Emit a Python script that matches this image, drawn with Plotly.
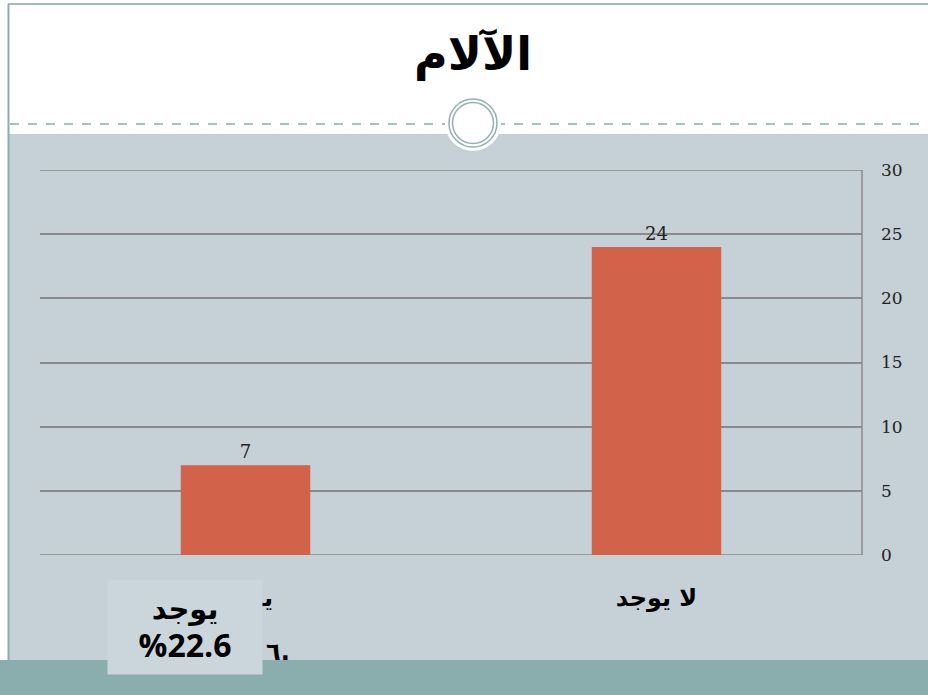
import plotly.graph_objects as go

categories = ["يوجد", "لا يوجد"]
values = [7, 24]
y_ticks = [0, 5, 10, 15, 20, 25, 30]
title_text = "الآلام"
box_lines = ["يوجد", "%22.6"]
hidden_fragment = "٦."

W_PX, H_PX = 928, 695
L, R, T, B = 40, 862, 170, 555
PW, PH = R - L, B - T


def px(x):
    return (x - L) / PW


def py(y):
    return (B - y) / PH


BAND = "#C5D0D7"
TEAL = "#8AADAD"
BAR = "#D2634A"
GRID = "#8A8A8A"

fig = go.Figure()
fig.add_trace(go.Bar(
    x=categories, y=values, marker=dict(color=BAR, line=dict(width=0)),
    width=0.315, text=[str(v) for v in values], textposition="outside",
    textfont=dict(family="DejaVu Serif", size=18, color="#222222"),
    cliponaxis=False, showlegend=False,
))

shapes = [
    dict(type="rect", xref="paper", yref="paper", x0=px(9), x1=px(W_PX), y0=py(660), y1=py(134),
         fillcolor=BAND, line=dict(width=0), layer="below"),
    dict(type="rect", xref="paper", yref="paper", x0=px(0), x1=px(W_PX), y0=py(H_PX), y1=py(660),
         fillcolor=TEAL, line=dict(width=0), layer="below"),
    dict(type="line", xref="paper", yref="paper", x0=px(8), x1=px(W_PX), y0=py(4), y1=py(4),
         line=dict(color="#A3BABA", width=2), layer="below"),
    dict(type="line", xref="paper", yref="paper", x0=px(8.5), x1=px(8.5), y0=py(4), y1=py(660),
         line=dict(color=TEAL, width=2), layer="below"),
    dict(type="line", xref="paper", yref="paper", x0=px(10), x1=px(W_PX), y0=py(124), y1=py(124),
         line=dict(color=TEAL, width=1.3, dash="dash"), layer="below"),
    dict(type="circle", xref="paper", yref="paper", xsizemode="pixel", ysizemode="pixel",
         xanchor=px(473), yanchor=py(123), x0=-28, x1=28, y0=-28, y1=28,
         fillcolor="white", line=dict(width=0), layer="below"),
    dict(type="circle", xref="paper", yref="paper", xsizemode="pixel", ysizemode="pixel",
         xanchor=px(473), yanchor=py(123), x0=-24, x1=24, y0=-24, y1=24,
         fillcolor="white", line=dict(color="#93B0B0", width=1.5), layer="below"),
    dict(type="circle", xref="paper", yref="paper", xsizemode="pixel", ysizemode="pixel",
         xanchor=px(473), yanchor=py(123), x0=-20.5, x1=20.5, y0=-20.5, y1=20.5,
         fillcolor="white", line=dict(color="#93B0B0", width=1.5), layer="below"),
    dict(type="line", xref="paper", yref="paper", x0=1, x1=1, y0=0, y1=1,
         line=dict(color=GRID, width=1.5), layer="below"),
]
for edge in (y_ticks[0], y_ticks[-1]):
    shapes.append(dict(type="line", xref="paper", yref="y", x0=0, x1=1, y0=edge, y1=edge,
                       line=dict(color=GRID, width=1.5), layer="below"))

annotations = [
    dict(xref="paper", yref="paper", x=px(473), y=py(54), text="<b>" + title_text + "</b>",
         showarrow=False, font=dict(family="DejaVu Sans", size=46, color="black"),
         xanchor="center", yanchor="middle"),
    dict(xref="paper", yref="paper", x=px(278), y=py(652), text="<b>" + hidden_fragment + "</b>",
         showarrow=False, font=dict(family="DejaVu Sans", size=24, color="black"),
         xanchor="center", yanchor="middle"),
    dict(xref="paper", yref="paper", x=px(185), y=py(627),
         text="<b>" + box_lines[0] + "<br><span style='font-size:32px'>" + box_lines[1] + "</span></b>",
         showarrow=False, font=dict(family="Open Sans, DejaVu Sans", size=29, color="black"),
         bgcolor="#CBD6DC", width=152, height=92, xanchor="center", yanchor="middle",
         align="center"),
]

fig.update_layout(
    width=W_PX, height=H_PX,
    margin=dict(l=L, r=W_PX - R, t=T, b=H_PX - B, pad=0),
    paper_bgcolor="white", plot_bgcolor="rgba(0,0,0,0)",
    shapes=shapes, annotations=annotations,
    xaxis=dict(showgrid=False, zeroline=False, showline=False, ticks="",
               tickfont=dict(family="DejaVu Sans", size=24, color="black"),
               ticklabelstandoff=26, tickprefix="<b>", ticksuffix="</b>"),
    yaxis=dict(side="right", range=[0, 30], tickvals=y_ticks, showgrid=True,
               gridcolor=GRID, gridwidth=1.5, zeroline=False, showline=False, ticks="",
               tickfont=dict(family="DejaVu Serif", size=17, color="#222222"),
               ticklabelstandoff=18),
)

fig.write_html("out.html")
